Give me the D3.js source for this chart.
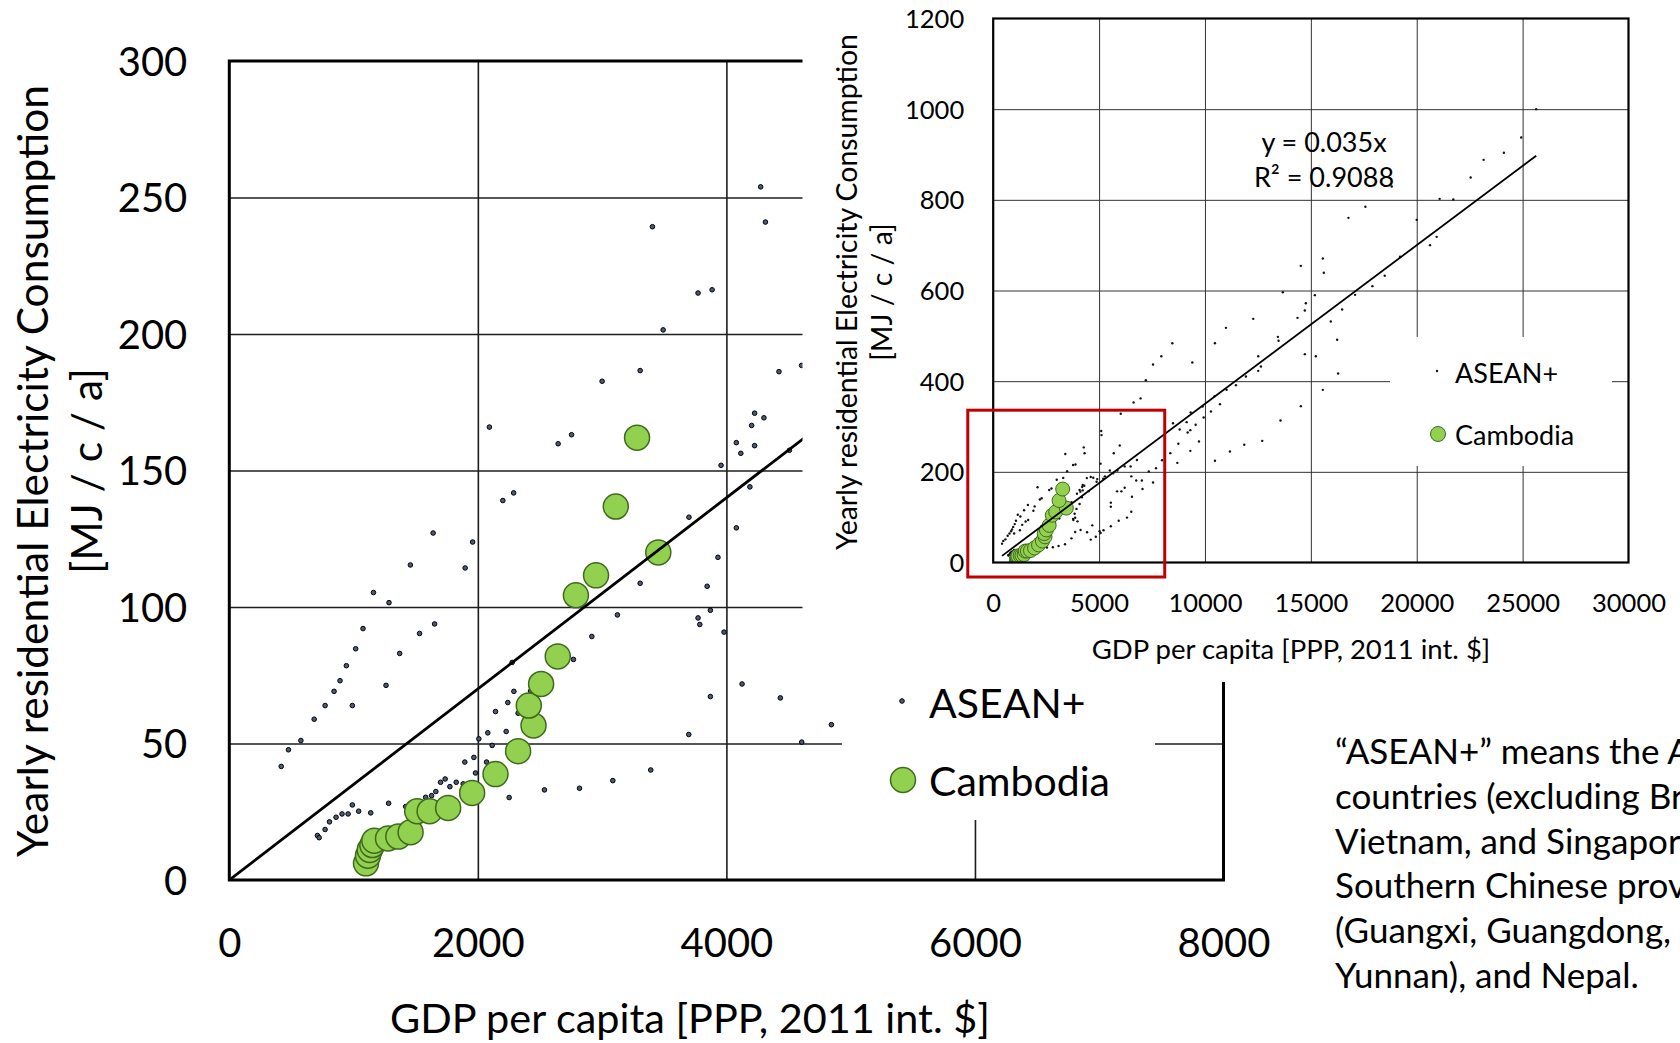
<!DOCTYPE html>
<html>
<head>
<meta charset="utf-8">
<script src="https://cdn.jsdelivr.net/npm/d3@7"></script>
<style>
  html, body { margin: 0; padding: 0; background: #fff; }
  svg { display: block; font-family: Lato, "Open Sans", sans-serif; }
</style>
</head>
<body>
<svg id="chart" width="1680" height="1043"></svg>
<script>
// ASEAN+ observations: [GDP per capita (PPP, 2011 int. $), residential electricity (MJ / c / a)]
const aseanPoints = [
  [418,41.6],[476,47.7],[576,51.1],[683,58.9],[709,16.3],[723,15.5],[771,63.9],[771,18.5],
  [806,21.3],[843,69.1],[859,23.0],[891,73.0],[907,24.2],[942,78.5],[956,24.2],[990,63.9],
  [990,27.5],[1017,84.7],[1041,25.2],[1076,92.1],[1138,24.6],[1160,105.3],[1261,71.3],
  [1282,28.1],[1285,101.6],[1371,83.0],[1419,26.9],[1457,115.4],[1531,90.3],[1580,30.3],
  [1628,30.9],[1640,127.1],[1652,93.8],[1662,32.4],[1700,35.8],[1737,37.0],[1775,34.2],
  [1826,35.8],[1882,35.2],[1895,43.2],[1898,114.3],[1958,123.8],[1968,44.9],[1981,39.2],
  [2008,51.7],[2070,43.2],[2080,53.9],[2093,165.9],[2115,49.3],[2142,61.7],[2201,139.0],
  [2228,54.4],[2241,65.0],[2252,30.2],[2276,79.7],[2288,141.8],[2290,69.1],[2324,61.1],
  [2424,69.2],[2536,33.0],[2646,159.8],[2754,163.1],[2769,80.8],[2818,33.6],[2917,89.2],
  [3000,182.7],[3086,36.4],[3123,97.1],[3306,186.6],[3306,108.7],[3391,40.3],[3405,239.3],
  [3491,201.5],[3697,53.3],[3699,132.9],[3772,96.0],[3772,215.0],[3786,93.6],[3845,107.6],
  [3871,98.8],[3871,67.2],[3885,216.2],[3932,118.2],[3957,151.9],[3981,90.8],[4080,160.2],
  [4080,129.0],[4116,156.3],[4126,71.8],[4189,144.0],[4203,166.5],[4227,171.0],[4227,159.1],
  [4276,253.9],[4302,169.3],[4314,241.0],[4423,186.2],[4434,66.7],[4507,157.4],[4605,188.5],
  [4606,50.5],[4845,56.9],
  [4680,82],[4727,187],[4883,178],[4914,184],[5023,69],[5070,65],[5210,71],[5195,185],
  [5273,190],[5100,290],[5115,281],[5070,218],[5507,203],[5554,80],[5554,123],[5554,132],
  [5663,197],[5694,241],[5850,157],[5866,203],[5928,92],[5975,258],[6022,328],[6053,157],
  [6209,165],[6209,212],[6318,99],[6490,212],[6521,112],[6521,190],[6552,145],[6630,353],
  [6755,181],[6786,226],[6958,362],[7020,181],[7051,162],[7207,402],[7348,201],
  [7548,436.8],[7548,176.5],[7689,208.1],[7940,455],[7972,225.7],[8365,241.2],[8459,483.8],
  [8491,307.3],[8695,219.8],[8742,261.8],[8805,293.4],[9135,309.6],[9183,286.8],[9308,292],
  [9308,246.3],[9324,330.9],[9403,441.2],[9560,303.7],[9717,266.9],[9890,344.1],[9937,319.9],
  [10283,333.1],[10456,366.9],[10472,483.8],[10472,224.3],[10707,349.3],[10990,517.6],
  [11022,380.9],[11179,244.8],[11462,391.2],[11855,259.6],[11934,410.3],[12279,537.5],
  [12515,455.1],[12515,422.8],[12641,432.3],[12704,268.4],[13443,497.8],[13474,489],
  [13568,313.2],[13678,596.3],[14370,539.7],[14527,654.4],[14527,344.9],[14716,555.9],
  [14716,459.6],[14763,572],[15188,589.7],[15235,455.1],[15565,670.6],[15565,380.9],
  [15612,639],[15942,531.6],[16241,491.2],[16288,416.9],[16477,558.1],[16775,760.3],
  [17090,590.4],[17577,784.6],[17907,609.6],[18489,632.4],[18819,829.4],[19212,674.3],
  [19998,755.9],[20627,700],[20941,718.4],[21083,802.2],[21727,800.7],[22545,849.3],
  [23158,888.2],[24117,903.7],[24934,937.5],[25641,1000]
];

// Cambodia time series: [GDP per capita, residential electricity]
const cambodiaPoints = [
  [1100,6.1],[1116,8.9],[1130,11.0],[1151,12.8],[1167,14.4],[1277,15.2],[1360,15.9],
  [1459,17.5],[1512,25.2],[1612,25.2],[1761,26.4],[1954,31.9],[2142,38.8],[2324,47.2],
  [2448,56.6],[2410,63.9],[2509,71.8],[2643,81.9],[2789,104.3],[2951,111.6],[3452,120.0],
  [3110,136.8],[3281,162.0]
];

// Linear fit through the origin
const trendSlope = 0.035;
const trendR2 = "0.9088";

const mainXTicks = [0, 2000, 4000, 6000, 8000];
const mainYTicks = [0, 50, 100, 150, 200, 250, 300];
const insetXTicks = [0, 5000, 10000, 15000, 20000, 25000, 30000];
const insetYTicks = [0, 200, 400, 600, 800, 1000, 1200];

// Range of the enlarged view, marked on the overview chart
const zoomWindow = { x0: -1200, x1: 8100, y0: -32, y1: 336 };

const xTitle = "GDP per capita [PPP, 2011 int. $]";
const yTitle = ["Yearly residential Electricity Consumption", "[MJ / c / a]"];
const seriesNames = ["ASEAN+", "Cambodia"];
const noteLines = [
  "\u201CASEAN+\u201D means the ASEAN",
  "countries (excluding Brunei,",
  "Vietnam, and Singapore),",
  "Southern Chinese provinces",
  "(Guangxi, Guangdong,",
  "Yunnan), and Nepal."
];

const GREEN = "#92d050", GREEN_EDGE = "#3f6a1c";
const svg = d3.select("#chart");

// ---------- enlarged chart (0–8000) ----------
const xMain = d3.scaleLinear().domain([0, 8000]).range([229.3, 1223.5]);
const yMain = d3.scaleLinear().domain([0, 300]).range([880, 61]);
const mainW = xMain.range()[1] - xMain.range()[0];
const mainH = yMain.range()[0] - yMain.range()[1];

svg.append("clipPath").attr("id", "clipMain")
  .append("rect").attr("x", xMain(0)).attr("y", yMain(300)).attr("width", mainW).attr("height", mainH);

const main = svg.append("g");

// gridlines
main.append("g").attr("transform", `translate(0,${yMain(0)})`)
  .call(d3.axisBottom(xMain).tickValues(mainXTicks.slice(1, -1)).tickSize(-mainH).tickFormat(""))
  .call(g => g.select(".domain").remove())
  .selectAll("line").attr("stroke", "#1e1e1e").attr("stroke-width", 1.6);
main.append("g").attr("transform", `translate(${xMain(0)},0)`)
  .call(d3.axisLeft(yMain).tickValues(mainYTicks.slice(1, -1)).tickSize(-mainW).tickFormat(""))
  .call(g => g.select(".domain").remove())
  .selectAll("line").attr("stroke", "#1e1e1e").attr("stroke-width", 1.6);

const mainPlot = main.append("g").attr("clip-path", "url(#clipMain)");
mainPlot.selectAll("circle.asean").data(aseanPoints).join("circle")
  .attr("class", "asean")
  .attr("cx", d => xMain(d[0])).attr("cy", d => yMain(d[1])).attr("r", 2.3)
  .attr("fill", "#4a5a78").attr("stroke", "#000").attr("stroke-width", 1);
mainPlot.selectAll("circle.khm").data(cambodiaPoints).join("circle")
  .attr("class", "khm")
  .attr("cx", d => xMain(d[0])).attr("cy", d => yMain(d[1])).attr("r", 12.5)
  .attr("fill", GREEN).attr("stroke", GREEN_EDGE).attr("stroke-width", 1.5);
mainPlot.append("line")
  .attr("x1", xMain(0)).attr("y1", yMain(0))
  .attr("x2", xMain(8000)).attr("y2", yMain(trendSlope * 8000))
  .attr("stroke", "#000").attr("stroke-width", 2.8);

// frame
main.append("rect").attr("x", xMain(0)).attr("y", yMain(300)).attr("width", mainW).attr("height", mainH)
  .attr("fill", "none").attr("stroke", "#000").attr("stroke-width", 3);

// tick labels
main.append("g").attr("transform", `translate(0,${yMain(0)})`)
  .call(d3.axisBottom(xMain).tickValues(mainXTicks).tickSize(0).tickFormat(d3.format("d")))
  .call(g => g.select(".domain").remove())
  .call(g => g.selectAll("text").attr("y", 63).attr("dy", "0.35em")
    .attr("font-family", "Lato").attr("font-size", 40).attr("fill", "#000"));
main.append("g").attr("transform", `translate(${xMain(0)},0)`)
  .call(d3.axisLeft(yMain).tickValues(mainYTicks).tickSize(0).tickPadding(42).tickFormat(d3.format("d")))
  .call(g => g.select(".domain").remove())
  .call(g => g.selectAll("text").attr("dy", "0.35em")
    .attr("font-family", "Lato").attr("font-size", 40).attr("fill", "#000"));

// axis titles
main.append("text").attr("x", 690).attr("y", 1017).attr("text-anchor", "middle")
  .attr("dominant-baseline", "central").attr("font-size", 41.4).text(xTitle);
yTitle.forEach((t, i) => {
  main.append("text").attr("transform", `translate(${[31, 85][i]},471) rotate(-90)`)
    .attr("text-anchor", "middle").attr("dominant-baseline", "central")
    .attr("font-size", 42.5).text(t);
});

// legend
const mainLegend = main.append("g");
mainLegend.append("rect").attr("x", 842).attr("y", 682).attr("width", 313).attr("height", 138).attr("fill", "#fff");
mainLegend.append("circle").attr("cx", 902).attr("cy", 701).attr("r", 2.3)
  .attr("fill", "#4a5a78").attr("stroke", "#000").attr("stroke-width", 1);
mainLegend.append("circle").attr("cx", 903).attr("cy", 780).attr("r", 12.5)
  .attr("fill", GREEN).attr("stroke", GREEN_EDGE).attr("stroke-width", 1.5);
seriesNames.forEach((s, i) => {
  mainLegend.append("text").attr("x", 929).attr("y", [702, 780][i])
    .attr("dominant-baseline", "central").attr("font-size", 41).text(s);
});

// ---------- overview chart (full range) ----------
svg.append("rect").attr("x", 802.5).attr("y", 0).attr("width", 1680 - 802.5).attr("height", 682).attr("fill", "#fff");

const xIn = d3.scaleLinear().domain([0, 30000]).range([993.2, 1628.5]);
const yIn = d3.scaleLinear().domain([0, 1200]).range([562.5, 18.5]);
const inW = xIn.range()[1] - xIn.range()[0];
const inH = yIn.range()[0] - yIn.range()[1];

svg.append("clipPath").attr("id", "clipInset")
  .append("rect").attr("x", xIn(0)).attr("y", yIn(1200)).attr("width", inW).attr("height", inH);

const inset = svg.append("g");
inset.append("g").attr("transform", `translate(0,${yIn(0)})`)
  .call(d3.axisBottom(xIn).tickValues(insetXTicks.slice(1, -1)).tickSize(-inH).tickFormat(""))
  .call(g => g.select(".domain").remove())
  .selectAll("line").attr("stroke", "#333").attr("stroke-width", 1);
inset.append("g").attr("transform", `translate(${xIn(0)},0)`)
  .call(d3.axisLeft(yIn).tickValues(insetYTicks.slice(1, -1)).tickSize(-inW).tickFormat(""))
  .call(g => g.select(".domain").remove())
  .selectAll("line").attr("stroke", "#333").attr("stroke-width", 1);

const inPlot = inset.append("g").attr("clip-path", "url(#clipInset)");
inPlot.selectAll("circle.asean").data(aseanPoints).join("circle")
  .attr("class", "asean")
  .attr("cx", d => xIn(d[0])).attr("cy", d => yIn(d[1])).attr("r", 1.2).attr("fill", "#111");
inPlot.selectAll("circle.khm").data(cambodiaPoints).join("circle")
  .attr("class", "khm")
  .attr("cx", d => xIn(d[0])).attr("cy", d => yIn(d[1])).attr("r", 7)
  .attr("fill", GREEN).attr("stroke", GREEN_EDGE).attr("stroke-width", 1);
const [gMin, gMax] = d3.extent(aseanPoints, d => d[0]);
inPlot.append("line")
  .attr("x1", xIn(gMin)).attr("y1", yIn(trendSlope * gMin))
  .attr("x2", xIn(gMax)).attr("y2", yIn(trendSlope * gMax))
  .attr("stroke", "#000").attr("stroke-width", 1.8);

inset.append("rect").attr("x", xIn(0)).attr("y", yIn(1200)).attr("width", inW).attr("height", inH)
  .attr("fill", "none").attr("stroke", "#000").attr("stroke-width", 2.2);

// marked zoom window
inset.append("rect")
  .attr("x", xIn(zoomWindow.x0)).attr("y", yIn(zoomWindow.y1))
  .attr("width", xIn(zoomWindow.x1) - xIn(zoomWindow.x0))
  .attr("height", yIn(zoomWindow.y0) - yIn(zoomWindow.y1))
  .attr("fill", "none").attr("stroke", "#c00000").attr("stroke-width", 3);

// trend label
inset.append("text").attr("x", 1324).attr("y", 141).attr("text-anchor", "middle")
  .attr("dominant-baseline", "central").attr("font-size", 27).text(`y = ${trendSlope}x`);
inset.append("text").attr("x", 1324).attr("y", 176).attr("text-anchor", "middle")
  .attr("dominant-baseline", "central").attr("font-size", 27).text(`R\u00B2 = ${trendR2}`);

// tick labels
inset.append("g").attr("transform", `translate(0,${yIn(0)})`)
  .call(d3.axisBottom(xIn).tickValues(insetXTicks).tickSize(0).tickFormat(d3.format("d")))
  .call(g => g.select(".domain").remove())
  .call(g => g.selectAll("text").attr("y", 40.5).attr("dy", "0.35em")
    .attr("font-family", "Lato").attr("font-size", 25.5).attr("fill", "#000"));
inset.append("g").attr("transform", `translate(${xIn(0)},0)`)
  .call(d3.axisLeft(yIn).tickValues(insetYTicks).tickSize(0).tickPadding(29).tickFormat(d3.format("d")))
  .call(g => g.select(".domain").remove())
  .call(g => g.selectAll("text").attr("dy", "0.35em")
    .attr("font-family", "Lato").attr("font-size", 25.5).attr("fill", "#000"));

inset.append("text").attr("x", 1291).attr("y", 648).attr("text-anchor", "middle")
  .attr("dominant-baseline", "central").attr("font-size", 27.5).text(xTitle);
yTitle.forEach((t, i) => {
  inset.append("text").attr("transform", `translate(${[846, 881][i]},292) rotate(-90)`)
    .attr("text-anchor", "middle").attr("dominant-baseline", "central")
    .attr("font-size", 28.4).text(t);
});

const inLegend = inset.append("g");
inLegend.append("rect").attr("x", 1390).attr("y", 337).attr("width", 222).attr("height", 129).attr("fill", "#fff");
inLegend.append("circle").attr("cx", 1437).attr("cy", 371).attr("r", 1.2).attr("fill", "#111");
inLegend.append("circle").attr("cx", 1438).attr("cy", 434).attr("r", 7.5)
  .attr("fill", GREEN).attr("stroke", GREEN_EDGE).attr("stroke-width", 1);
seriesNames.forEach((s, i) => {
  inLegend.append("text").attr("x", 1455).attr("y", [372, 434][i])
    .attr("dominant-baseline", "central").attr("font-size", 27).text(s);
});

// ---------- note ----------
const note = svg.append("text").attr("font-size", 35);
noteLines.forEach((t, i) => {
  note.append("tspan").attr("x", 1335).attr("y", 750 + i * 44.8)
    .attr("dominant-baseline", "central").text(t);
});
</script>
</body>
</html>
